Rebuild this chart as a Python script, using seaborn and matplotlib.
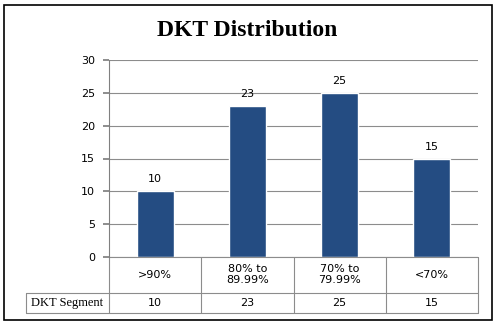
import numpy as np
import pandas as pd
import matplotlib
matplotlib.use("Agg")
import matplotlib.pyplot as plt
import seaborn as sns
from matplotlib.patches import Rectangle
from matplotlib.transforms import blended_transform_factory

# chart data
categories = [">90%", "80% to\n89.99%", "70% to\n79.99%", "<70%"]
counts = [10, 23, 25, 15]
series_name = "DKT Segment"
y_ticks = [0, 5, 10, 15, 20, 25, 30]

sns.set_theme(style="white")
plt.rcParams["font.family"] = ["DejaVu Sans"]
plt.rcParams["text.color"] = "black"
plt.rcParams["ytick.labelcolor"] = "black"

df = pd.DataFrame({"segment": categories, "count": counts})

fig = plt.figure(figsize=(4.98, 3.27), dpi=100)
W, H = 498, 327
ax = fig.add_axes([109 / W, (H - 257) / H, (478 - 109) / W, (257 - 60) / H])

sns.barplot(data=df, x="segment", y="count", color="#244C82", saturation=1,
            width=0.4, ax=ax)

ax.set_ylim(0, 30)
ax.set_yticks(y_ticks)
ax.set_xlim(-0.5, len(categories) - 0.5)
ax.set_xlabel("")
ax.set_ylabel("")
ax.set_xticks([])
ax.tick_params(axis="y", labelsize=8, length=4, color="#808080", direction="out",
               left=True, pad=6, labelcolor="black")
ax.yaxis.grid(True, color="#8c8c8c", linewidth=0.8)
ax.set_axisbelow(True)
for s in ["top", "right", "bottom"]:
    ax.spines[s].set_visible(False)
ax.spines["left"].set_color("#808080")
ax.spines["left"].set_linewidth(0.8)

# value labels
for i, v in enumerate(counts):
    ax.annotate(str(v), (i, v), xytext=(0, 5), textcoords="offset points",
                ha="center", va="bottom", fontsize=8, color="black")

# data table under the chart
trans = blended_transform_factory(ax.transData, ax.transAxes)
ax_h = 257 - 60
row1 = -(292.7 - 257) / ax_h
row2 = -(313.3 - 257) / ax_h
left_tab = (26 - 109) / (478 - 109)
lc = "#8c8c8c"
ax.plot([-0.5, len(categories) - 0.5], [0, 0], transform=trans, color=lc,
        lw=0.8, clip_on=False)
ax.plot([left_tab, 1], [row1, row1], transform=ax.transAxes, color=lc, lw=0.8,
        clip_on=False)
ax.plot([left_tab, 1], [row2, row2], transform=ax.transAxes, color=lc, lw=0.8,
        clip_on=False)
ax.plot([left_tab, left_tab], [row1, row2], transform=ax.transAxes, color=lc,
        lw=0.8, clip_on=False)
for b in np.arange(len(categories) + 1) - 0.5:
    ax.plot([b, b], [0, row2], transform=trans, color=lc, lw=0.8, clip_on=False)

for i, (c, v) in enumerate(zip(categories, counts)):
    ax.text(i, row1 / 2, c, transform=trans, ha="center", va="center",
            fontsize=8, linespacing=1.1, color="black")
    ax.text(i, (row1 + row2) / 2, str(v), transform=trans, ha="center",
            va="center", fontsize=8, color="black")
ax.text((left_tab + 0) / 2, (row1 + row2) / 2, series_name,
        transform=ax.transAxes, ha="center", va="center", fontsize=9,
        family=["Liberation Serif"], color="black")

fig.text(247 / W, 1 - 30 / H, "DKT Distribution", ha="center", va="center",
         fontsize=17, fontweight="bold", family=["Liberation Serif"],
         color="black")

# outer chart border
fig.patches.append(Rectangle((4 / W, (H - 320) / H), (492 - 4) / W, (320 - 5) / H,
                             transform=fig.transFigure, fill=False,
                             edgecolor="black", linewidth=1.2))

fig.savefig("out.png", dpi=100)
